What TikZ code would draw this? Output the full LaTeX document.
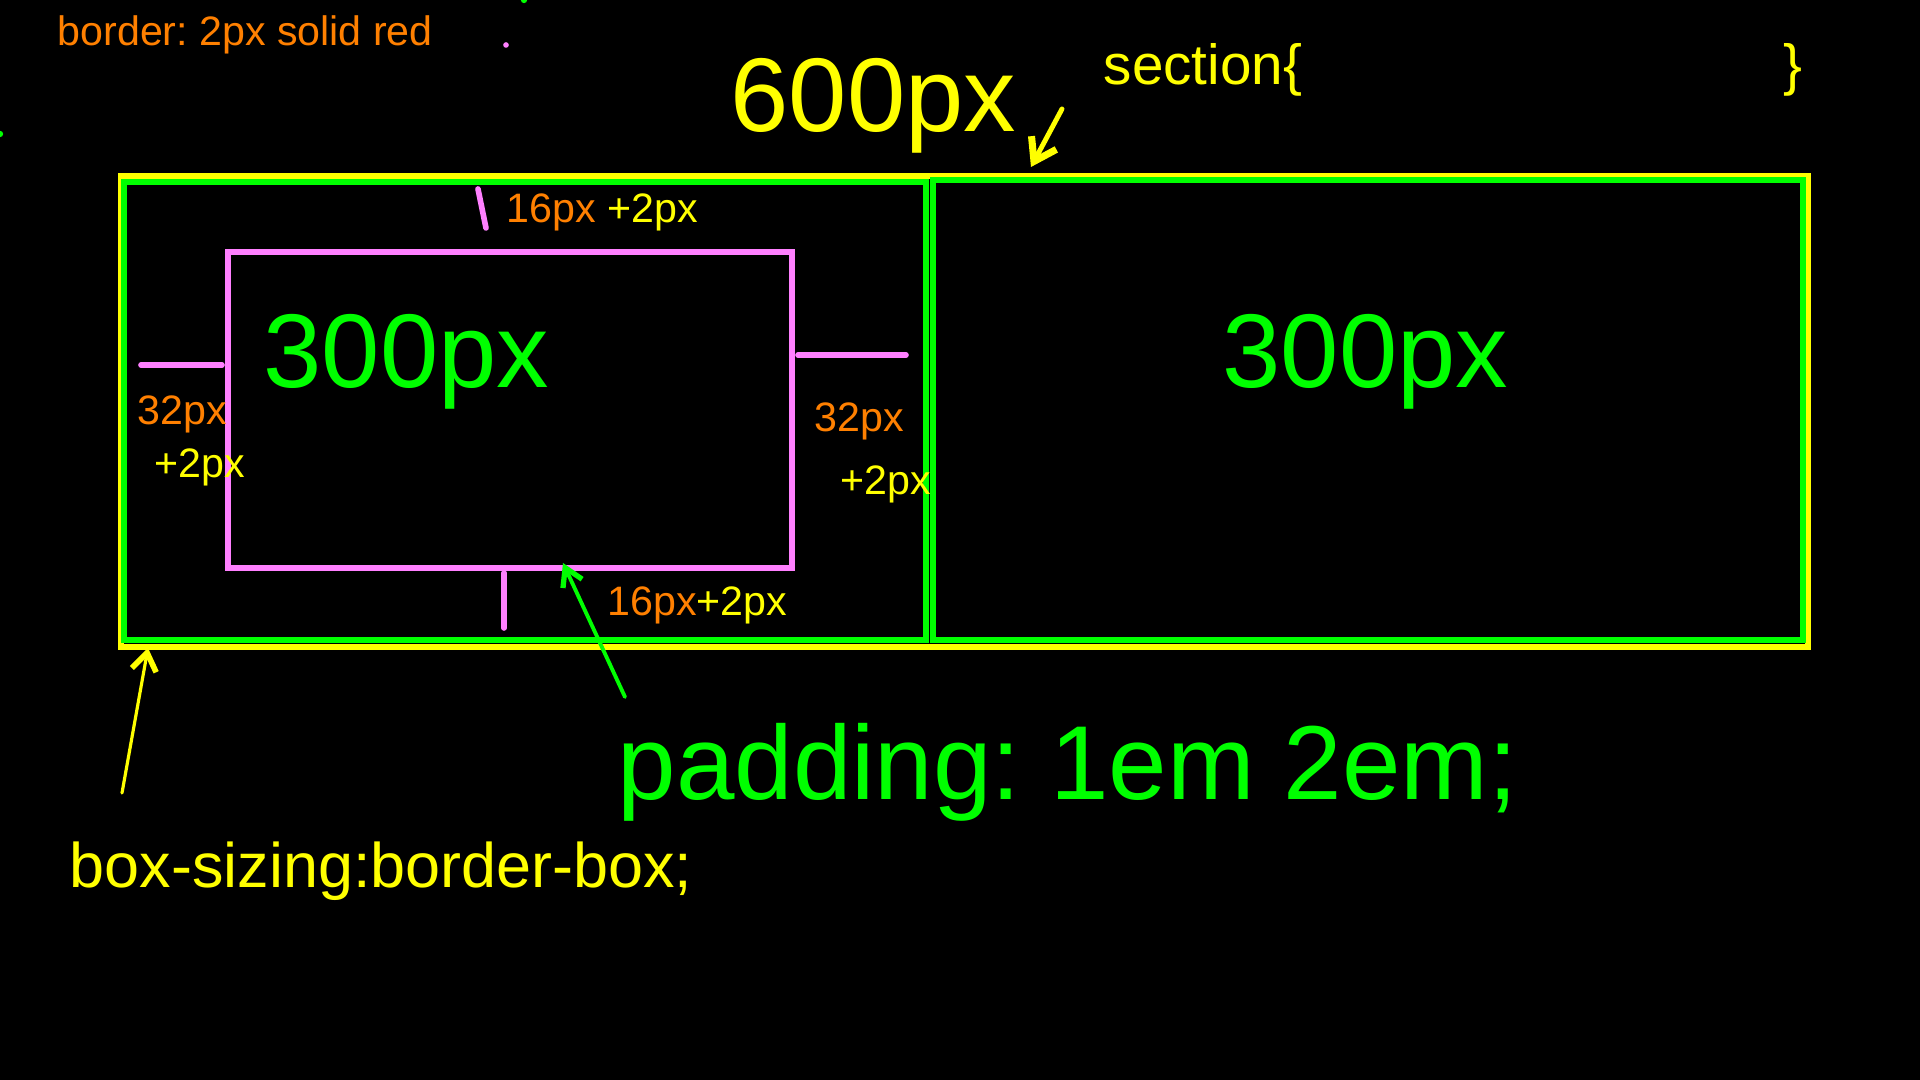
\documentclass[tikz,border=0pt]{standalone}
\usepackage{fontspec}
\setmainfont{Liberation Sans}
\usetikzlibrary{arrows.meta}
\definecolor{ylw}{HTML}{FFFF00}
\definecolor{grn}{HTML}{00FF00}
\definecolor{pnk}{HTML}{FF80FF}
\definecolor{org}{HTML}{FF8000}
\newcommand{\fs}[1]{\fontsize{#1}{#1}\selectfont}
\frenchspacing

\begin{document}
\begin{tikzpicture}[x=0.01cm,y=-0.01cm,
  lbl/.style={anchor=base west,inner sep=0pt},
  small/.style={lbl,font=\fs{11.7pt}},
  big/.style={lbl,font=\fs{29.8pt}},
  edge/.style={line width=1.7pt},
  tick/.style={pnk,line width=1.6pt,line cap=round}]
  \fill[black] (0,0) rectangle (1920,1080);
  \useasboundingbox (0,0) rectangle (1920,1080);
  \fill[pnk] (506,45) circle (0.8pt);
  \fill[grn] (524,0) circle (0.9pt);
  \fill[grn] (0,134) circle (0.9pt);
  % section and its two boxes
  \draw[edge,ylw] (121,176) rectangle (1808,647);
  \draw[edge,grn] (933,180) rectangle (1803,640);
  \draw[edge,grn] (124,182) rectangle (926,640);
  \draw[edge,pnk] (228,252) rectangle (792,568);
  \draw[tick] (478,189) -- (486,228);
  \draw[tick] (141,365) -- (222,365);
  \draw[tick] (798,355) -- (906,355);
  \draw[tick] (504,573) -- (504,628);
  % labels
  \node[small,org] (rule) at (57,46) {border: 2px solid red};
  \node[big,ylw] (total) at (730,132) {600px};
  \node[lbl,ylw,font=\fs{16.1pt}] (selopen) at (1103,85) {section\{};
  \node[lbl,ylw,font=\fs{16.1pt}] (selclose) at (1783,85) {\}};
  \node[big,grn] (wleft) at (263,388) {300px};
  \node[big,grn] (wright) at (1222,388) {300px};
  \node[small,org] (padtop) at (506,223) {16px \textcolor{ylw}{+2px}};
  \node[small,org] (padleft) at (137,425) {32px};
  \node[small,ylw] (bdleft) at (154,478) {+2px};
  \node[small,org] (padright) at (814,432) {32px};
  \node[small,ylw] (bdright) at (840,495) {+2px};
  \node[small,org] (padbot) at (607,616) {16px\textcolor{ylw}{+2px}};
  \node[lbl,grn,font=\fs{29.9pt}] (padding) at (617,800) {padding: 1em 2em;};
  \node[lbl,ylw,font=\fs{17.9pt}] (sizing) at (69,888) {box-sizing:border-box;};
  % arrows
  \coordinate (totaltail) at (1062,109);
  \coordinate (totaltip) at (1031,167);
  \coordinate (padtail) at (625,697);
  \coordinate (padtip) at (563,563);
  \coordinate (sizetail) at (122,793);
  \coordinate (sizetip) at (148,648);
  \draw[ylw,line width=1.4pt,line cap=round,-{Straight Barb[length=6pt,width=8pt,line width=2pt]}] (totaltail) -- (totaltip);
  \draw[grn,line width=1.1pt,line cap=round,-{Straight Barb[length=5pt,width=6pt,line width=1.5pt]}] (padtail) -- (padtip);
  \draw[ylw,line width=0.9pt,line cap=round,-{Straight Barb[length=5pt,width=7pt,line width=1.6pt]}] (sizetail) -- (sizetip);
\end{tikzpicture}
\end{document}
